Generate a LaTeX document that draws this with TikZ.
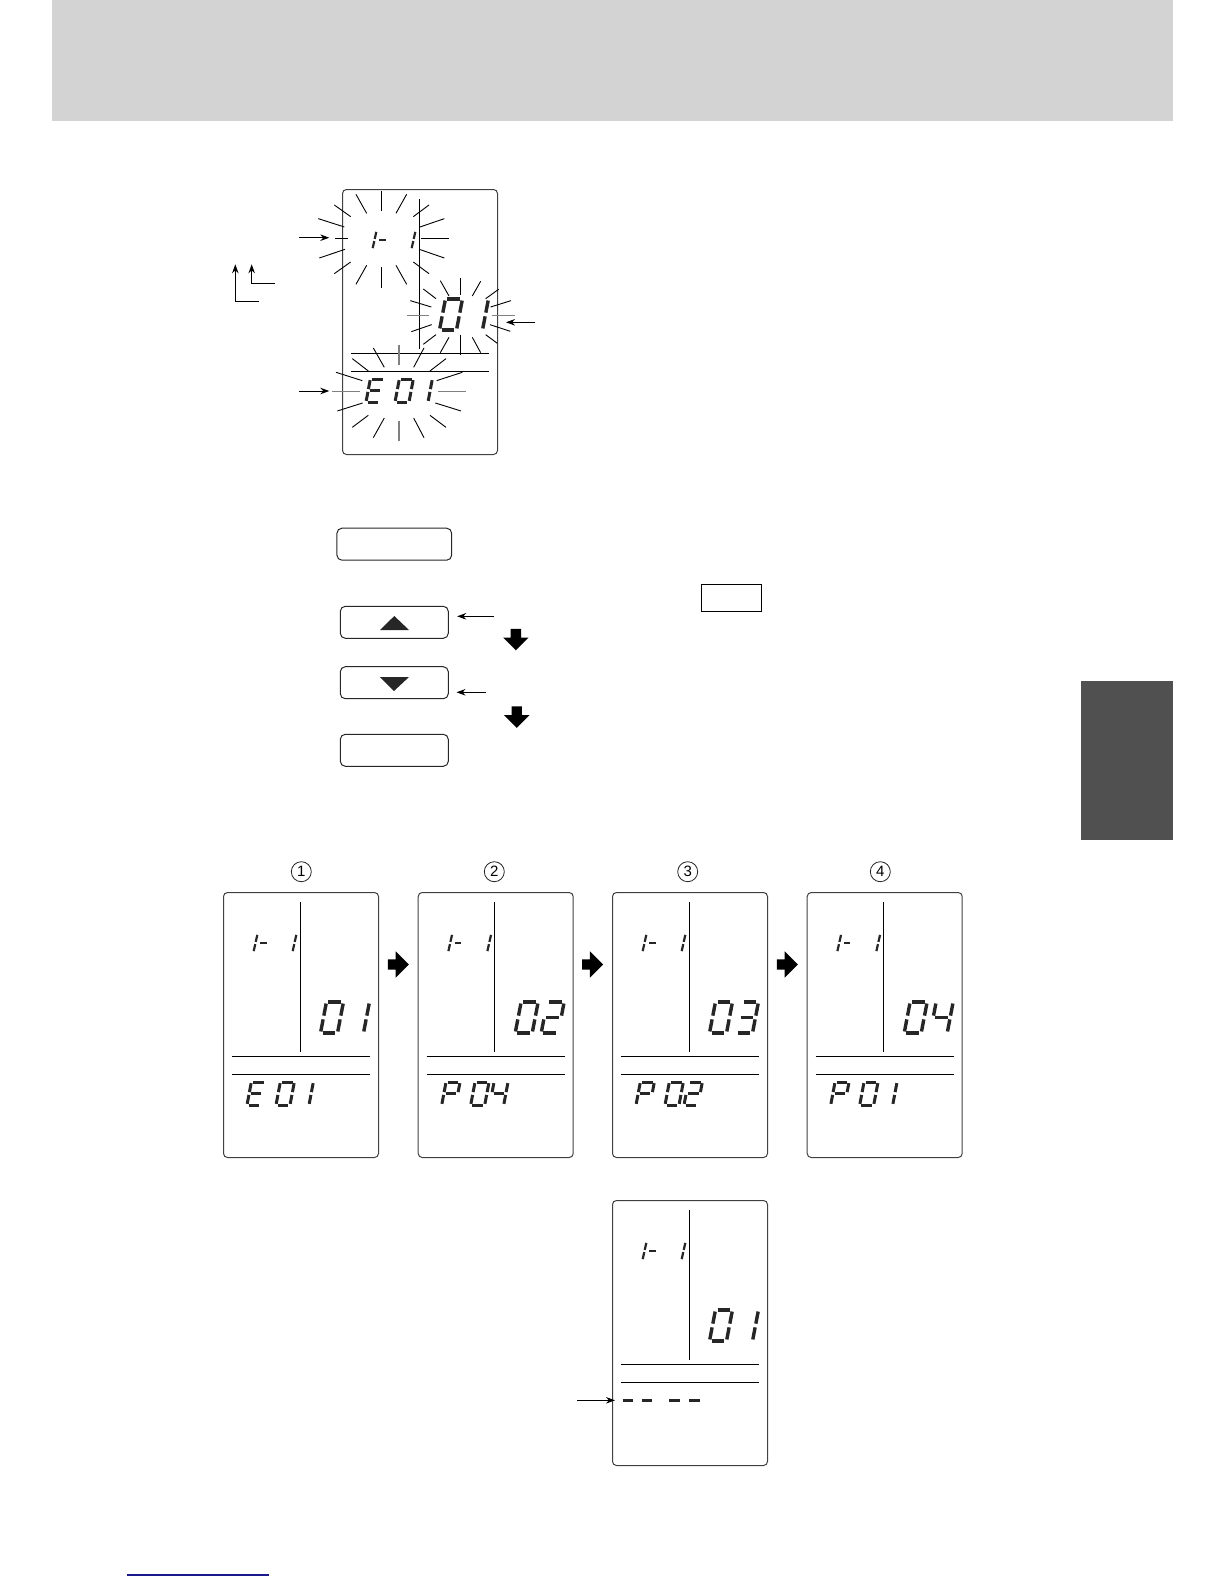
\documentclass[tikz,border=0pt]{standalone}
\usepackage{fontspec}
\newfontfamily\stepfont{Liberation Sans}
\usetikzlibrary{arrows.meta, positioning, shapes.arrows}
\definecolor{headgray}{HTML}{D3D3D3}
\definecolor{tabgray}{HTML}{505050}
\definecolor{linkblue}{HTML}{1A1A8C}

% lcd segments, unit cell with origin at lower left
\newcommand{\sega}{\draw[lcdseg] (0.12,1) -- (0.88,1);}
\newcommand{\segb}{\draw[lcdseg] (1,0.95) -- (1,0.56);}
\newcommand{\segc}{\draw[lcdseg] (1,0.44) -- (1,0.05);}
\newcommand{\segd}{\draw[lcdseg] (0.12,0) -- (0.88,0);}
\newcommand{\sege}{\draw[lcdseg] (0,0.44) -- (0,0.05);}
\newcommand{\segf}{\draw[lcdseg] (0,0.95) -- (0,0.56);}
\newcommand{\segg}{\draw[lcdseg] (0.12,0.5) -- (0.88,0.5);}
\newcommand{\dzero}{a,b,c,d,e,f}
\newcommand{\done}{b,c}
\newcommand{\dtwo}{a,b,g,e,d}
\newcommand{\dthree}{a,b,g,c,d}
\newcommand{\dfour}{f,g,b,c}
\newcommand{\dE}{a,f,g,e,d}
\newcommand{\dP}{a,b,f,g,e}
\newcommand{\ddash}{g}
\newcommand{\lcdchar}[3]{\begin{scope}[shift={(#1)},#2]\foreach \s in #3 {\csname seg\s\endcsname}\end{scope}}

% panel frame with divider lines and the 1- 1 readout
\newcommand{\lcdframe}[3]{
  \node[lcdpanel] (#1) at (#2,#3) {};
  \begin{scope}[shift={(#2,#3)}]
    \draw[lcdline] (77,10) -- (77,160);
    \draw[lcdline] (9,164) -- (147,164);
    \draw[lcdline] (9,182) -- (147,182);
    \lcdchar{22.5,60}{lcdsmall}{\done}
    \lcdchar{34.5,60}{lcdsmall}{\ddash}
    \lcdchar{61.5,60}{lcdsmall}{\done}
  \end{scope}
}
% medium pair at the right, then the lower row
\newcommand{\lcdread}[6]{
  \begin{scope}[shift={(#1,#2)}]
    \lcdchar{97.5,141}{lcdmed}{#3}
    \lcdchar{123.5,141}{lcdmed}{#4}
    \lcdchar{24,213}{lcdlow}{#5}
    \lcdchar{53,213}{lcdlow}{\dzero}
    \lcdchar{72,213}{lcdlow}{#6}
  \end{scope}
}

\begin{document}
\begin{tikzpicture}[
  x=1pt, y=-1pt,
  lcdpanel/.style={draw=black!75, line width=1pt, rounded corners=4pt, anchor=north west, inner sep=0pt, minimum width=155pt, minimum height=265pt},
  lcdline/.style={black, line width=0.9pt},
  lcdseg/.style={black!85, line width=2.4pt},
  lcdsmall/.style={xscale=8, yscale=-18, xslant=-0.5, lcdseg/.style={black!85, line width=2.2pt}},
  lcdmed/.style={xscale=17, yscale=-31, xslant=-0.35, lcdseg/.style={black!85, line width=3.4pt}},
  lcdlow/.style={xscale=14, yscale=-23, xslant=-0.31, lcdseg/.style={black!85, line width=3pt}},
  raydark/.style={black, line width=0.9pt},
  raygray/.style={black!50, line width=1.5pt},
  pointer/.style={-{Stealth[length=9pt,width=6.5pt]}, black, line width=0.9pt},
  keybtn/.style={draw=black!85, line width=1pt, rounded corners=5pt, inner sep=0pt, minimum height=32pt},
  blockdown/.style={single arrow, fill=black, rotate=-90, inner xsep=0pt, inner ysep=5pt, single arrow head extend=7.6pt, minimum height=21.4pt},
  blockright/.style={single arrow, fill=black, inner xsep=0pt, inner ysep=5pt, single arrow head extend=8pt, minimum height=21pt},
  stepno/.style={draw=black!85, circle, line width=0.8pt, minimum size=20pt, inner sep=0pt, font=\stepfont\fontsize{15}{15}\selectfont}
]
\useasboundingbox (0,0) rectangle (1224,1584);

% page furniture
\node[fill=headgray, anchor=north west, inner sep=0pt, minimum width=1121.3pt, minimum height=120.7pt] (header) at (51.7,0) {};
\node[fill=tabgray, anchor=north west, inner sep=0pt, minimum width=91.7pt, minimum height=159pt] (sidetab) at (1081,681) {};
\coordinate (linkl) at (127,1575);
\coordinate (linkr) at (269,1575);
\draw[linkblue, line width=1.2pt] (linkl) -- (linkr);

% flashing panel
\lcdframe{flashpanel}{342}{189}
\lcdread{342}{189}{\dzero}{\done}{\dE}{\done}
\begin{scope}[shift={(210,170)}, x=0.3333pt, y=-0.3333pt]
\foreach \xa/\ya/\xb/\yb in {
  515/63/515/123, 438/73/470/130, 590/73/558/130, 373/105/422/140, 657/105/610/140,
  325/146/403/171, 703/146/630/171, 376/205/414/205, 634/205/717/205, 328/264/405/238,
  703/264/628/238, 373/311/422/276, 657/311/610/276, 438/343/470/286, 590/343/558/286,
  515/292/515/353,
  751/325/751/375, 691/332/717/378, 812/334/787/378, 640/357/678/386, 866/358/827/386,
  601/392/664/411, 903/392/842/411, 604/485/665/464, 901/484/840/464, 640/523/678/494,
  862/520/827/494, 691/548/717/502, 812/548/787/502, 751/495/751/555,
  490/534/523/592, 642/534/611/592, 427/566/475/603, 708/566/660/603, 378/607/457/632,
  757/607/680/632, 382/723/458/699, 753/723/676/699, 427/772/475/736, 708/772/660/736,
  490/803/523/744, 642/803/611/744}
  \draw[raydark] (\xa,\ya) -- (\xb,\yb);
\foreach \xa/\ya/\xb/\yb in {
  591/437/658/437, 846/437/914/437, 567/524/567/585, 366/665/450/665, 684/665/768/665, 567/752/567/812}
  \draw[raygray] (\xa,\ya) -- (\xb,\yb);
\end{scope}

% pointers round the flashing panel
\coordinate (topfrom) at (299,237.7);
\coordinate (toptip) at (329.3,237.7);
\coordinate (midfrom) at (535,322.3);
\coordinate (midtip) at (506,322.3);
\coordinate (lowfrom) at (299,391);
\coordinate (lowtip) at (329.3,391);
\draw[pointer] (topfrom) -- (toptip);
\draw[pointer] (midfrom) -- (midtip);
\draw[pointer] (lowfrom) -- (lowtip);
\coordinate (bendafrom) at (258.7,301.3);
\coordinate (bendatip) at (235.3,264.3);
\coordinate (bendbfrom) at (275,283.7);
\coordinate (bendbtip) at (251.7,264.3);
\draw[pointer] (bendafrom) -| (bendatip);
\draw[pointer] (bendbfrom) -| (bendbtip);

% keys
\node[keybtn, minimum width=114.7pt] (setbtn) at (394.3,544.2) {};
\node[keybtn, minimum width=108pt] (upbtn) at (394.3,622.3) {};
\node[keybtn, minimum width=108pt] (downbtn) at (394.3,682.7) {};
\node[keybtn, minimum width=108pt] (endbtn) at (394.3,750.3) {};
\fill[black!85] (380,630) -- (394.3,616) -- (409,630) -- cycle;
\fill[black!85] (380,677) -- (394,691) -- (409,677) -- cycle;
\coordinate (upnote) at (494,616.3);
\coordinate (downnote) at (486,692.3);
\draw[pointer, shorten >=8.4pt] (upnote) -- (upnote -| upbtn.east);
\draw[pointer, shorten >=7.7pt] (downnote) -- (downnote -| downbtn.east);
\node[blockdown] (stepa) at (515.8,637) {};
\node[blockdown] (stepb) at (516.7,714.5) {};
\node[draw, line width=1pt, inner sep=0pt, minimum width=60.4pt, minimum height=27pt] (smallbox) at (731.5,597.8) {};

% sequence of panels
\node[stepno] (noa) at (301.3,871.7) {1};
\node[stepno] (nob) at (494.3,871.7) {2};
\node[stepno] (noc) at (687.7,871.7) {3};
\node[stepno] (nod) at (880.3,871.7) {4};
\lcdframe{panela}{223}{892}
\lcdread{223}{892}{\dzero}{\done}{\dE}{\done}
\lcdframe{panelb}{417.7}{892}
\lcdread{417.7}{892}{\dzero}{\dtwo}{\dP}{\dfour}
\lcdframe{panelc}{612}{892}
\lcdread{612}{892}{\dzero}{\dthree}{\dP}{\dtwo}
\lcdframe{paneld}{806.7}{892}
\lcdread{806.7}{892}{\dzero}{\dfour}{\dP}{\done}
\node[blockright] (nexta) at (395.7,964.5) {};
\node[blockright] (nextb) at (590,964.5) {};
\node[blockright] (nextc) at (784.7,964.5) {};

% last panel, empty lower row
\lcdframe{panele}{612}{1200}
\begin{scope}[shift={(612,1200)}]
  \lcdchar{97.5,141}{lcdmed}{\dzero}
  \lcdchar{123.5,141}{lcdmed}{\done}
  \lcdchar{6.7,212}{lcdlow}{\ddash}
  \lcdchar{25.7,212}{lcdlow}{\ddash}
  \lcdchar{53.3,212}{lcdlow}{\ddash}
  \lcdchar{73,212}{lcdlow}{\ddash}
\end{scope}
\coordinate (dashfrom) at (577,1400.3);
\coordinate (dashtip) at (615,1400.3);
\draw[pointer] (dashfrom) -- (dashtip);
\end{tikzpicture}
\end{document}
